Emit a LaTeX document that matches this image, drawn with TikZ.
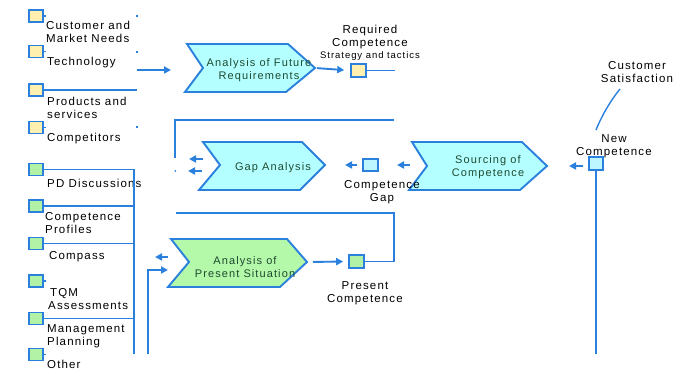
\documentclass[tikz,border=0pt]{standalone}
\usepackage{fontspec}
\newfontfamily\lblfont{Liberation Sans}[LetterSpace=10]
\usetikzlibrary{arrows.meta}
\definecolor{lineblue}{HTML}{2A80DC}
\definecolor{chevcyan}{HTML}{B4FFFF}
\definecolor{chevgreen}{HTML}{B4F8AA}
\definecolor{boxyellow}{HTML}{FFF0B0}
\definecolor{boxgreen}{HTML}{B2F2A6}
\definecolor{boxcyan}{HTML}{BEF6FF}
\definecolor{chevtext}{HTML}{1E4A30}
\begin{document}
\begin{tikzpicture}[x=1pt,y=-1pt,
  conn/.style={draw=lineblue, line width=1.9pt},
  arr/.style={conn, -{Triangle[length=7pt,width=7pt]}},
  box/.style={draw=lineblue, line width=1.6pt, minimum width=14pt, minimum height=12pt, inner sep=0pt},
  ybox/.style={box, fill=boxyellow},
  gbox/.style={box, fill=boxgreen},
  cbox/.style={box, fill=boxcyan},
  lbl/.style={font=\lblfont\fontsize{11.5}{13}\selectfont, inner sep=0pt, text=black},
  llbl/.style={lbl, anchor=west, align=left},
  clbl/.style={lbl, align=center},
  chev/.style={draw=lineblue, line width=1.9pt, line join=miter},
  chevlbl/.style={lbl, font=\lblfont\fontsize{11}{13}\selectfont, align=center, text=chevtext}
]
\useasboundingbox (0,0) rectangle (686,371);

% ---------- input objects, left column ----------
\node[ybox] (y1) at (36,16) {};
\node[ybox] (y2) at (36,51.5) {};
\node[ybox] (y3) at (36,90) {};
\node[ybox] (y4) at (36,127.5) {};
\node[gbox] (g1) at (36,169.5) {};
\node[gbox] (g2) at (36,206) {};
\node[gbox] (g3) at (36,243.5) {};
\node[gbox] (g4) at (36,281) {};
\node[gbox] (g5) at (36,318.5) {};
\node[gbox] (g6) at (36,354.5) {};

\node[llbl] (ly1) at (46,31.5) {Customer and\\Market Needs};
\node[llbl] (ly2) at (47,63) {Technology};
\node[llbl] (ly3) at (47,107.5) {Products and\\services};
\node[llbl] (ly4) at (47,139) {Competitors};
\node[llbl] (lg1) at (47,183) {PD Discussions};
\node[llbl] (lg2) at (45,223) {Competence\\Profiles};
\node[llbl] (lg3) at (49,257) {Compass};
\node[llbl] (lg4) at (48,299.5) {\hspace*{2pt}TQM\\Assessments};
\node[llbl] (lg5) at (47,336.5) {Management\\Planning};
\node[llbl] (lg6) at (47,364) {Other};

% ---------- functions ----------
\draw[chev, fill=chevcyan] (187,44) -- (288,44) -- (315,68) -- (286,92) -- (185,92) -- (203,68) -- cycle;
\node[chevlbl] (fut) at (259,70) {Analysis of Future\\Requirements};
\coordinate (futTip) at (315,68);

\draw[chev, fill=chevcyan] (203,142) -- (302,142) -- (325,165) -- (300,190) -- (199,190) -- (220,165) -- cycle;
\node[chevlbl] (gap) at (273,168) {Gap Analysis};

\draw[chev, fill=chevcyan] (412,142) -- (522,142) -- (547,166) -- (520,190) -- (409,190) -- (427,166) -- cycle;
\node[chevlbl] (src) at (488,167) {Sourcing of\\Competence};

\draw[chev, fill=chevgreen] (171,239) -- (287,239) -- (307,262) -- (280,287) -- (168,287) -- (189,262) -- cycle;
\node[chevlbl] (pres) at (245,267) {Analysis of\\Present Situation};
\coordinate (presTip) at (307,262);

% ---------- result objects ----------
\node[ybox, minimum width=15pt, minimum height=13pt] (reqC) at (358.5,70.5) {};
\node[cbox, minimum width=15pt] (gapC) at (370.5,165) {};
\node[cbox, minimum height=13pt] (newC) at (596,163.5) {};
\node[gbox, minimum width=15pt, minimum height=13pt] (presC) at (356.5,261.5) {};

\node[clbl] (lreq) at (370,37.5) {Required\\Competence};
\node[lbl, font=\lblfont\fontsize{9.5}{11}\selectfont] (lstrat) at (370,56) {Strategy and tactics};
\node[clbl] (lgapC) at (382,192.5) {Competence\\Gap};
\node[clbl] (lpresC) at (365,293) {Present\\Competence};
\node[clbl] (lnewC) at (614,146) {New\\Competence};
\node[clbl] (lsat) at (637,72) {Customer\\Satisfaction};

% ---------- connectors: market inputs ----------
\coordinate (mkX1) at (136,16);
\coordinate (mkX2) at (136,52);
\coordinate (mkX3) at (137,90);
\coordinate (mkX4) at (136,127);
\draw[conn] (y1.east) -- ++(2,0);
\draw[conn] (y2.east) -- ++(2,0);
\draw[conn] (y4.east) -- ++(2,0);
\draw[conn] (mkX1) -- ++(1.6,0);
\draw[conn] (mkX2) -- ++(1.6,0);
\draw[conn] (mkX4) -- ++(1.6,0);
\draw[conn] (y3.east) -- (mkX3);
\coordinate (mkOut) at (137,70);
\coordinate (futIn) at (171,70);
\draw[arr] (mkOut) -- (futIn);

% ---------- connectors: internal inputs ----------
\coordinate (inTop) at (134,169.5);
\coordinate (inBot) at (134,354);
\draw[conn] (g1.east) -- (inTop) -- (inBot);
\draw[conn] (g2.east) -- (134,206);
\draw[conn] (g3.east) -- (134,243.5);
\draw[conn] (g5.east) -- (134,318.5);
\draw[conn] (g4.east) -- ++(2,0);
\draw[conn] (g6.east) -- ++(2,0);

\coordinate (fbBot) at (148,354);
\coordinate (fbCorner) at (148,270);
\coordinate (presIn) at (168,270);
\draw[arr] (fbBot) -- (fbCorner) -- (presIn);
\coordinate (presOutT) at (168,257);
\coordinate (presOutH) at (155,257);
\draw[arr] (presOutT) -- (presOutH);

% ---------- connectors: gap analysis feedback ----------
\coordinate (topRight) at (394,120);
\coordinate (topLeft) at (175,120);
\coordinate (topDown) at (175,158);
\draw[conn] (topRight) -- (topLeft) -- (topDown);
\draw[arr] (203,159) -- (189,159);
\draw[arr] (202,171) -- (188,171);
\fill[lineblue] (175.3,171) circle (1);

\coordinate (midLeft) at (176,213);
\coordinate (midCorner) at (394,213);
\coordinate (presLine) at (394,261.5);
\draw[conn] (midLeft) -- (midCorner) -- (presLine) -- (presC.east);

% ---------- connectors: results ----------
\draw[arr, shorten <=2pt, shorten >=6pt] (futTip) -- (reqC.west);
\coordinate (reqEnd) at (395,70.5);
\draw[conn] (reqC.east) -- (reqEnd);
\draw[arr, shorten <=6pt, shorten >=5pt] (presTip) -- (presC.west);

\coordinate (gapCT) at (357,165);
\coordinate (gapCH) at (345,165);
\draw[arr] (gapCT) -- (gapCH);
\coordinate (srcT) at (410,165);
\coordinate (srcH) at (397,165);
\draw[arr] (srcT) -- (srcH);
\coordinate (newT) at (583,166);
\coordinate (newH) at (569,166);
\draw[arr] (newT) -- (newH);

\coordinate (newBot) at (596,354);
\draw[conn] (newC.south) -- (newBot);
\coordinate (satA) at (596,130);
\coordinate (satB) at (620,89);
\draw[conn, line width=1.4pt] (satA) .. controls (602,115) and (611,100) .. (satB);
\end{tikzpicture}
\end{document}
